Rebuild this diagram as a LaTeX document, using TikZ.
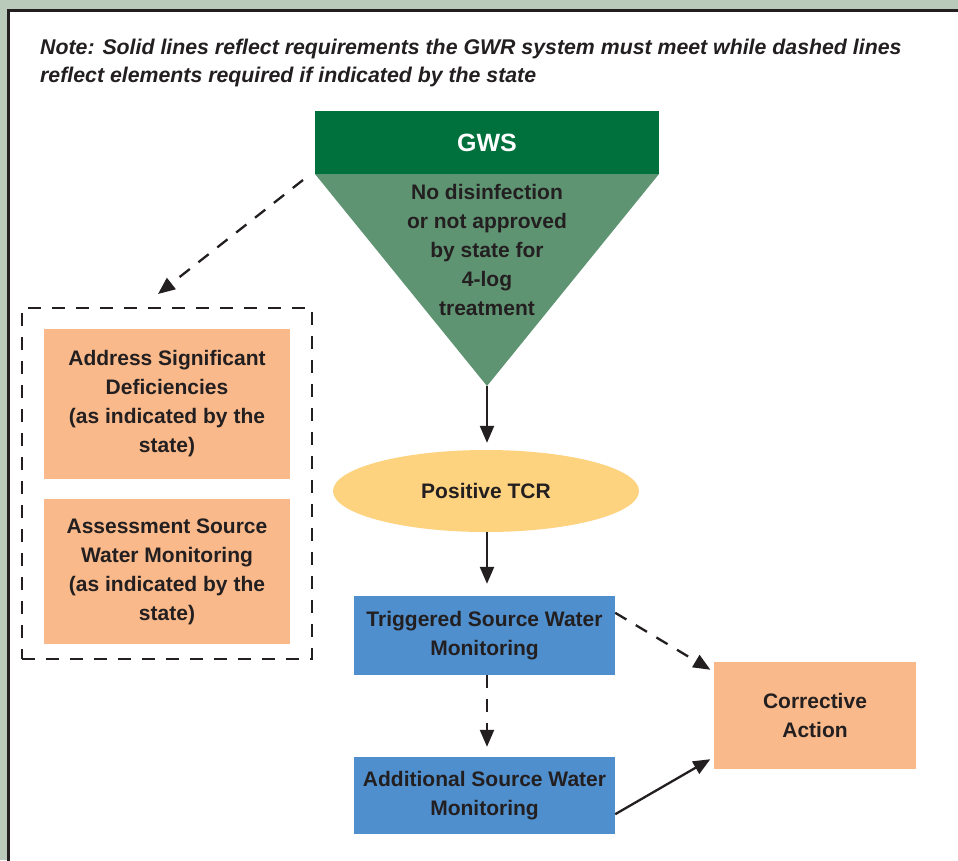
\documentclass[tikz,border=0pt]{standalone}
\usepackage{fontspec}
\setmainfont{Liberation Sans}
\usetikzlibrary{arrows.meta,shapes.geometric}
\definecolor{frameg}{HTML}{B9CABA}
\definecolor{ink}{HTML}{231F20}
\definecolor{gwsgreen}{HTML}{00703C}
\definecolor{trigreen}{HTML}{5F9473}
\definecolor{tcryellow}{HTML}{FDD380}
\definecolor{boxblue}{HTML}{4F8FCD}
\definecolor{boxorange}{HTML}{F9B98A}
\tikzset{
  txt/.style={text=ink, font=\bfseries\fontsize{21}{29}\selectfont, align=center, inner sep=0pt},
  bluebox/.style={txt, fill=boxblue, minimum width=261pt},
  orangebox/.style={txt, fill=boxorange, minimum width=246pt},
  conn/.style={ink, line width=2.3pt, -{Triangle[length=17pt,width=14pt]}},
  dconn/.style={conn, dash pattern=on 13pt off 11pt},
}
\begin{document}
\begin{tikzpicture}[x=1pt,y=-1pt]
\useasboundingbox (0,0) rectangle (958,860);
\clip (0,0) rectangle (958,860);
\fill[frameg] (0,0) rectangle (958,860);
\fill[white] (8,10) rectangle (975,875);
\draw[ink, line width=3pt] (8,875) -- (8,10) -- (975,10);

\node[anchor=west, align=left, inner sep=0pt, text=ink,
      font=\bfseries\itshape\fontsize{21.3}{28}\selectfont] (note) at (40,63)
  {Note: Solid lines reflect requirements the GWR system must meet while dashed lines\\reflect elements required if indicated by the state};

\node[txt, text=white, font=\bfseries\fontsize{25}{30}\selectfont, fill=gwsgreen,
      minimum width=344pt, minimum height=63pt] (gws) at (487,142.5) {GWS};
\fill[trigreen] (315,174) -- (659,174) -- (487,386) -- cycle;
\coordinate (apex) at (487,386);
\node[txt] (cond) at (487,250) {No disinfection\\or not approved\\by state for\\4-log\\treatment};

\node[txt, ellipse, fill=tcryellow, minimum width=306pt, minimum height=82pt] (tcr) at (486,491) {Positive TCR};
\node[bluebox, minimum height=79pt] (trig) at (484.5,635.5) {Triggered Source Water\\Monitoring};
\node[bluebox, minimum height=77pt] (add) at (484.5,795.5) {Additional Source Water\\Monitoring};
\node[txt, fill=boxorange, minimum width=202pt, minimum height=107pt] (corr) at (815,715.5) {Corrective\\Action};

\node[draw=ink, line width=2.3pt, dash pattern=on 13pt off 11pt, minimum width=290pt, minimum height=351pt] (grp) at (167,483.5) {};
\node[orangebox, minimum height=150pt] (asd) at (167,404) {Address Significant\\Deficiencies\\(as indicated by the\\state)};
\node[orangebox, minimum height=145pt] (asw) at (167,571.5) {Assessment Source\\Water Monitoring\\(as indicated by the\\state)};

\coordinate (dstart) at (303,180);
\coordinate (dend) at (158,294);
\draw[dconn] (dstart) -- (dend);
\draw[conn, shorten >=7pt] (apex) -- (tcr.north -| apex);
\draw[conn, shorten >=12pt] (tcr.south -| apex) -- (trig.north -| apex);
\draw[dconn, shorten >=10pt] (trig.south -| apex) -- (add.north -| apex);
\draw[dconn, shorten >=4pt] ([yshift=-17pt]trig.north east) -- ([yshift=-10pt]corr.north west);
\draw[conn, shorten >=4pt] ([yshift=20pt]add.south east) -- ([yshift=12pt]corr.south west);
\end{tikzpicture}
\end{document}
